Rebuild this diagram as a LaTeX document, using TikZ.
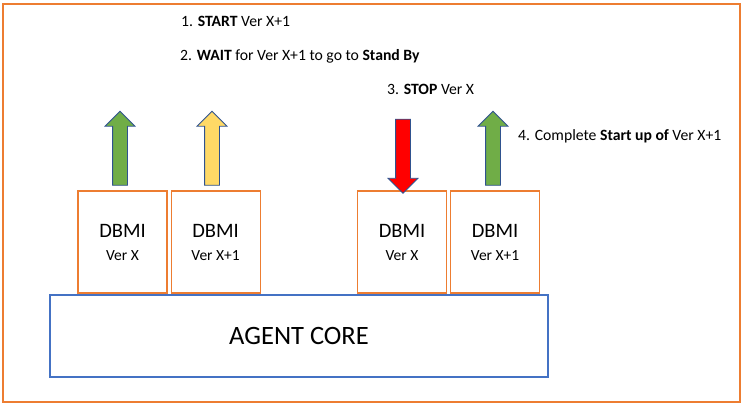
\documentclass[tikz,border=0pt]{standalone}
\usepackage{fontspec}
\setmainfont{Carlito}
\usetikzlibrary{positioning,shapes.arrows}
\definecolor{frame}{HTML}{ED7D31}
\definecolor{coreblue}{HTML}{4472C4}
\definecolor{upgreen}{HTML}{70AD47}
\definecolor{waityellow}{HTML}{FFD966}
\definecolor{outline}{HTML}{2F528F}

\begin{document}
\begin{tikzpicture}[
  x=1pt,y=-1pt,
  node distance=3pt,
  dbmi/.style={draw=frame,line width=1.1pt,minimum width=89pt,minimum height=102pt,align=center,inner sep=0pt,font=\fontsize{20.5}{23}\selectfont},
  core/.style={draw=coreblue,line width=1.1pt,minimum width=498pt,minimum height=82pt,font=\fontsize{26.5}{30}\selectfont},
  blockarrow/.style={single arrow,draw=outline,line width=0.8pt,minimum width=29pt,minimum height=74pt,single arrow head extend=7.5pt,inner sep=7pt},
  steptext/.style={anchor=base west,inner sep=0pt,font=\fontsize{15.7}{18}\selectfont}
]
  \useasboundingbox (0,0) rectangle (743,404);
  \draw[frame,line width=1.1pt] (3,4) rectangle (740,402);

  % core and its four instances
  \node[core] (agent) at (299,336) {AGENT CORE};
  \node[dbmi] (oldA) at (122.5,242) {DBMI\\{\fontsize{15.5}{23}\selectfont Ver X}};
  \node[dbmi,right=of oldA] (newA) {DBMI\\{\fontsize{15.5}{23}\selectfont Ver X+1}};
  \node[dbmi] (oldB) at (402,242) {DBMI\\{\fontsize{15.5}{23}\selectfont Ver X}};
  \node[dbmi,right=of oldB] (newB) {DBMI\\{\fontsize{15.5}{23}\selectfont Ver X+1}};

  % state arrows
  \node[blockarrow,fill=upgreen,rotate=90] (upA) at (120,152) {};
  \node[blockarrow,fill=waityellow,rotate=90] (waitA) at (212,152) {};
  \node[blockarrow,fill=red,rotate=-90] (stopB) at (403,152.5) {};
  \node[blockarrow,fill=upgreen,rotate=90] (upB) at (493,152) {};

  % steps
  \node[steptext] (s1) at (181,27) {1. \textbf{START} Ver X+1};
  \node[steptext] (s2) at (180,60) {2. \textbf{WAIT} for Ver X+1 to go to \textbf{Stand By}};
  \node[steptext] (s3) at (387,94) {3. \textbf{STOP} Ver X};
  \node[steptext] (s4) at (518,140) {4. Complete \textbf{Start up of} Ver X+1};
\end{tikzpicture}
\end{document}
